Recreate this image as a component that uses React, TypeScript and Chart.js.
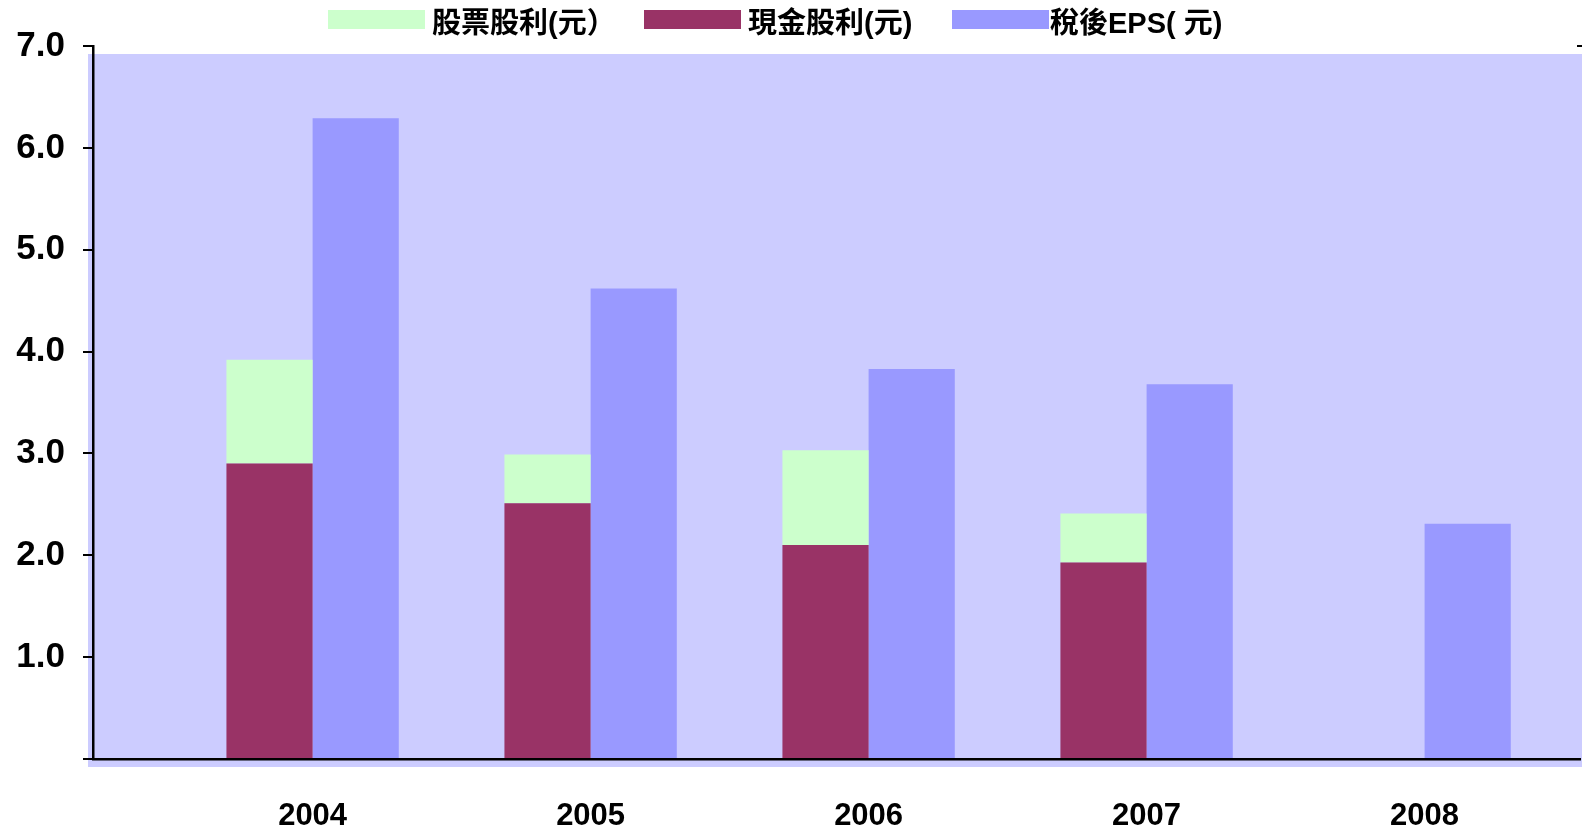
import React, { useEffect, useRef } from "react";
import { Chart, registerables } from "chart.js";

Chart.register(...registerables);

const years = ["2004", "2005", "2006", "2007", "2008"];
const seriesNames = ["股票股利(元）", "現金股利(元)", "稅後EPS( 元)"];
const stockDividend: (number | null)[] = [1.02, 0.48, 0.93, 0.48, null];
const cashDividend: (number | null)[] = [2.9, 2.51, 2.1, 1.93, null];
const epsAfterTax: number[] = [6.29, 4.62, 3.83, 3.68, 2.31];
const yTicks = [0, 1, 2, 3, 4, 5, 6, 7];

const GREEN = "#CCFFCC";
const MAROON = "#993366";
const BLUE = "#9999FF";
const BG = "#CCCCFF";

const backgroundPlugin = {
  id: "bgFill",
  beforeDraw(chart: any) {
    const { ctx, chartArea, width } = chart;
    ctx.save();
    ctx.fillStyle = "#ffffff";
    ctx.fillRect(0, 0, width, chart.height);
    ctx.fillStyle = BG;
    ctx.fillRect(chartArea.left - 5, chartArea.top + 8, width - (chartArea.left - 5), chartArea.bottom - chartArea.top);
    ctx.restore();
  },
};

const legendPlugin = {
  id: "customLegend",
  afterDraw(chart: any) {
    const { ctx } = chart;
    const items = [
      { color: GREEN, name: seriesNames[0], bx: 328, tx: 432 },
      { color: MAROON, name: seriesNames[1], bx: 644, tx: 748 },
      { color: BLUE, name: seriesNames[2], bx: 952, tx: 1050 },
    ];
    ctx.save();
    ctx.font = "bold 29px Arial, 'Liberation Sans', 'Noto Sans CJK TC', sans-serif";
    ctx.textBaseline = "middle";
    ctx.textAlign = "left";
    for (const it of items) {
      ctx.fillStyle = it.color;
      ctx.fillRect(it.bx, 10, 97, 19);
      ctx.fillStyle = "#000000";
      ctx.fillText(it.name, it.tx, 25);
    }
    ctx.fillStyle = "#000";
    ctx.fillRect(chart.chartArea.right - 3, chart.chartArea.top - 1, 6, 2);
    ctx.restore();
  },
};

export default function App() {
  const ref = useRef<HTMLCanvasElement | null>(null);

  useEffect(() => {
    if (!ref.current) return;
    const chart = new Chart(ref.current, {
      type: "bar",
      data: {
        datasets: [
          {
            label: seriesNames[1],
            data: cashDividend.map((v, i) => ({ x: i, y: v })) as any,
            backgroundColor: MAROON,
            stack: "div",
            borderWidth: 0,
          },
          {
            label: seriesNames[0],
            data: stockDividend.map((v, i) => ({ x: i, y: v })) as any,
            backgroundColor: GREEN,
            stack: "div",
            borderWidth: 0,
          },
          {
            label: seriesNames[2],
            data: epsAfterTax.map((v, i) => ({ x: i, y: v })) as any,
            backgroundColor: BLUE,
            stack: "eps",
            borderWidth: 0,
          },
        ],
      },
      options: {
        animation: false,
        responsive: true,
        maintainAspectRatio: false,
        categoryPercentage: 0.62,
        barPercentage: 1.0,
        layout: { padding: { top: 46, right: 2, left: 0, bottom: 0 } },
        plugins: {
          legend: { display: false },
          tooltip: { enabled: false },
        },
        scales: {
          x: {
            type: "linear",
            min: -0.79,
            max: 4.559,
            offset: false,
            afterBuildTicks: (scale: any) => {
              scale.ticks = years.map((_, i) => ({ value: i }));
            },
            afterFit: (scale: any) => {
              scale.height = 70;
            },
            grid: { display: false },
            border: { display: true, color: "#000", width: 2.5 },
            ticks: {
              autoSkip: false,
              maxRotation: 0,
              padding: 31,
              color: "#000",
              font: { family: "Arial, 'Liberation Sans', sans-serif", size: 31, weight: "bold" },
              callback: (v: any) => years[v as number] ?? "",
            },
          },
          y: {
            stacked: true,
            min: 0,
            max: 7,
            afterBuildTicks: (scale: any) => {
              scale.ticks = yTicks.map((v) => ({ value: v }));
            },
            afterFit: (scale: any) => {
              scale.width = 93;
            },
            grid: {
              display: true,
              drawOnChartArea: false,
              drawTicks: true,
              tickLength: 10,
              color: "#000",
              lineWidth: 2,
            },
            border: { display: true, color: "#000", width: 2.5 },
            ticks: {
              padding: 18,
              color: "#000",
              font: { family: "Arial, 'Liberation Sans', sans-serif", size: 35, weight: "bold" },
              callback: (v: any) => (v === 0 ? "" : Number(v).toFixed(1)),
            },
          },
        },
      } as any,
      plugins: [backgroundPlugin, legendPlugin],
    });
    return () => chart.destroy();
  }, []);

  return (
    <div style={{ position: "absolute", left: 0, top: 0, width: 1582, height: 829, background: "#fff" }}>
      <canvas ref={ref} />
    </div>
  );
}
